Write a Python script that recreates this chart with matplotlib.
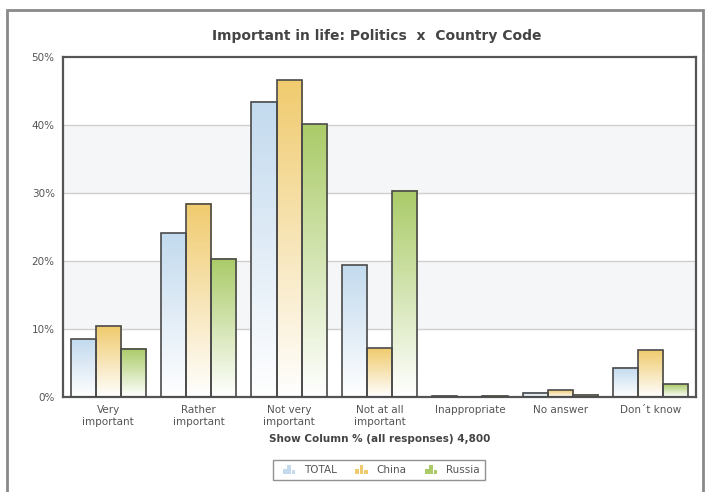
import numpy as np
import matplotlib
matplotlib.use("Agg")
import matplotlib.pyplot as plt
from matplotlib.patches import Rectangle
from matplotlib.colors import LinearSegmentedColormap
from matplotlib.legend_handler import HandlerBase

categories = ["Very\nimportant", "Rather\nimportant", "Not very\nimportant",
              "Not at all\nimportant", "Inappropriate", "No answer", "Don\u00b4t know"]
series_names = ["TOTAL", "China", "Russia"]
total = [8.5, 24.1, 43.4, 19.4, 0.2, 0.6, 4.3]
china = [10.4, 28.4, 46.6, 7.2, 0.0, 1.0, 6.9]
russia = [7.1, 20.3, 40.1, 30.3, 0.2, 0.3, 1.9]
yticks = [0, 10, 20, 30, 40, 50]

colors = ["#c3daee", "#f0cb6e", "#aacb68"]
edge = "#4a4a4a"
text_col = "#555555"

fig = plt.figure(figsize=(7.06, 4.92), dpi=100)
ax = fig.add_axes([63 / 706, 95 / 492, 633 / 706, 340 / 492])

# outer panel frame
fig.patches.append(Rectangle((7 / 706, -0.05), 696 / 706, 1.05 - 10 / 492 + 0.0,
                             transform=fig.transFigure, fill=False,
                             edgecolor="#8a8a8a", linewidth=2, zorder=0))

ax.set_xlim(-0.5, len(categories) - 0.5)
ax.set_ylim(0, 50)

# alternating background bands and grid lines
for lo in (10, 30):
    ax.axhspan(lo, lo + 10, color="#f4f6f8", zorder=0, lw=0)
for y in yticks[1:-1]:
    ax.axhline(y, color="#cfcfcf", lw=1, zorder=0.5)

bw = 0.277
data = [total, china, russia]
x = np.arange(len(categories))
for i, vals in enumerate(data):
    cmap = LinearSegmentedColormap.from_list(f"g{i}", ["#ffffff", colors[i]])
    grad = np.linspace(0, 1, 128).reshape(-1, 1)
    pos = x + (i - 1) * bw
    for xp, v in zip(pos, vals):
        if v <= 0:
            continue
        ax.imshow(grad, extent=(xp - bw / 2, xp + bw / 2, 0, v), origin="lower",
                  cmap=cmap, aspect="auto", zorder=2, interpolation="bilinear")
    ax.bar(pos, vals, width=bw, facecolor="none", edgecolor=edge, linewidth=1.2, zorder=3)

ax.set_xlim(-0.5, len(categories) - 0.5)
ax.set_ylim(0, 50)
ax.set_yticks(yticks)
ax.set_yticklabels([f"{t}%" for t in yticks])
ax.set_xticks(x)
ax.set_xticklabels(categories)
ax.tick_params(axis="both", length=0, labelsize=7.5, labelcolor=text_col, pad=6)
for s in ax.spines.values():
    s.set_color("#555555")
    s.set_linewidth(1.6)

ax.set_xlabel("Show Column % (all responses) 4,800", fontsize=7.5, fontweight="bold",
              color="#444444", labelpad=5)
fig.text(377 / 706, 1 - 36 / 492, "Important in life: Politics  x  Country Code",
         ha="center", va="center", fontsize=10, color="#444444", fontweight="bold")


class MiniBars(HandlerBase):
    def __init__(self, color):
        super().__init__()
        self.color = color

    def create_artists(self, legend, orig_handle, xdescent, ydescent, width, height,
                       fontsize, trans):
        arts = []
        w = width / 4.5
        for k, h in enumerate([0.6, 1.0, 0.45]):
            r = Rectangle((-xdescent + width * 0.25 + k * w * 1.2, -ydescent), w, height * h,
                          facecolor=self.color, edgecolor="none", transform=trans)
            arts.append(r)
        return arts


handles = [Rectangle((0, 0), 1, 1) for _ in series_names]
leg = fig.legend(handles, series_names, loc="center", bbox_to_anchor=(379 / 706, 1 - 470 / 492),
                 ncol=3, fontsize=7.5, frameon=True, fancybox=False, edgecolor="#777777",
                 handlelength=1.6, handleheight=1.0, columnspacing=1.4, handletextpad=0.8,
                 borderpad=0.5,
                 handler_map={h: MiniBars(c) for h, c in zip(handles, colors)})
for t in leg.get_texts():
    t.set_color(text_col)
leg.get_frame().set_linewidth(1.0)

fig.savefig("out.png", dpi=100)
